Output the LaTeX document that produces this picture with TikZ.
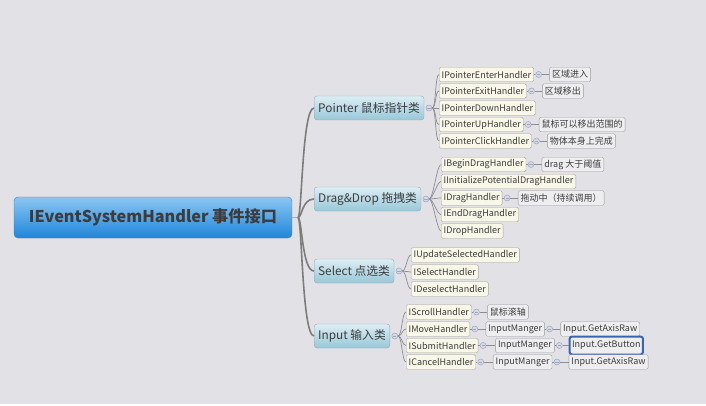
\documentclass[tikz,border=0pt]{standalone}
\usepackage{fontspec}
\setmainfont{Noto Sans CJK SC}
\usetikzlibrary{positioning}
\definecolor{bg}{HTML}{E2E1E6}
\definecolor{ink}{HTML}{3C3C3C}
\definecolor{roottop}{HTML}{8CC6F2}
\definecolor{rootbot}{HTML}{1F86DA}
\definecolor{rootline}{HTML}{3E7FC2}
\definecolor{brtop}{HTML}{DDEEF4}
\definecolor{brbot}{HTML}{98C7D8}
\definecolor{brline}{HTML}{8FAAB4}
\definecolor{leaffill}{HTML}{F8F7E8}
\definecolor{leafline}{HTML}{A4A39A}
\definecolor{notefill}{HTML}{EEEEF1}
\definecolor{noteline}{HTML}{9C9CA0}
\definecolor{limbgray}{HTML}{7C7C7C}
\definecolor{twiggray}{HTML}{8E8E8E}
\definecolor{knobfill}{HTML}{D6DAE6}
\definecolor{knobline}{HTML}{9EA6C0}
\definecolor{selblue}{HTML}{3B63B5}
\tikzset{
  rootbox/.style={draw=rootline,rounded corners=4pt,top color=roottop,bottom color=rootbot,
    text=ink,font=\fontsize{16.2}{18}\selectfont\bfseries,minimum width=278pt,minimum height=41pt},
  branch/.style={draw=brline,rounded corners=3pt,top color=brtop,bottom color=brbot,
    text=ink,font=\fontsize{11.8}{13}\selectfont,minimum height=24pt,inner xsep=4pt,anchor=west},
  leaf/.style={draw=leafline,rounded corners=1.5pt,fill=leaffill,text=ink,
    font=\fontsize{9}{10}\selectfont,minimum height=14.5pt,inner xsep=2.5pt,inner ysep=0pt,anchor=west},
  note/.style={leaf,draw=noteline,fill=notefill},
  picked/.style={note,draw=selblue,line width=2pt,rounded corners=2.5pt,minimum height=18pt},
  knob/.style={circle,draw=knobline,fill=knobfill,inner sep=0pt,minimum size=6pt,line width=0.5pt,
    path picture={\draw[knobline,line width=0.6pt] ([xshift=-1.6pt]path picture bounding box.center)
      -- ([xshift=1.6pt]path picture bounding box.center);}},
  limb/.style={draw=limbgray,line width=1.6pt},
  twig/.style={draw=twiggray,line width=0.7pt},
}
\begin{document}
\begin{tikzpicture}[x=1pt,y=-1pt]
  % canvas
  \fill[bg] (0,0) rectangle (706,406);
  \fill[white] (0,403.5) rectangle (706,406);
  \useasboundingbox (0,0) rectangle (706,406);

  % root and main branches
  \node[rootbox] (root) at (153,217.5) {IEventSystemHandler 事件接口};
  \coordinate (hub) at (298,217.5);
  \node[branch] (ptr)  at (314,108) {Pointer 鼠标指针类};
  \node[branch] (drag) at (314,199) {Drag\&Drop 拖拽类};
  \node[branch] (sel)  at (314,271) {Select 点选类};
  \node[branch] (inp)  at (314,336) {Input 输入类};
  \draw[limb,draw=limbgray!60,line width=1pt] (root.east) -- (hub);
  \foreach \b in {ptr,drag,sel,inp}
    \draw[limb] (hub) .. controls +(4,0) and +(-12,0) .. (\b.west);

  % Pointer
  \node[knob,right=1.5pt of ptr] (ptrk) {};
  \node[leaf] (p1) at (439,74.5) {IPointerEnterHandler};
  \node[leaf] (p2) at (439,91)   {IPointerExitHandler};
  \node[leaf] (p3) at (439,108)  {IPointerDownHandler};
  \node[leaf] (p4) at (439,124.5) {IPointerUpHandler};
  \node[leaf] (p5) at (439,141)  {IPointerClickHandler};
  \foreach \c in {p1,p2,p3,p4,p5}
    \draw[twig] (ptrk.east) .. controls +(4,0) and +(-4,0) .. (\c.west);
  \node[knob,right=1.5pt of p1] (p1k) {};
  \node[note,right=7.5pt of p1k] (p1n) {区域进入};
  \node[knob,right=1.5pt of p2] (p2k) {};
  \node[note,right=7.5pt of p2k] (p2n) {区域移出};
  \node[knob,right=1.5pt of p4] (p4k) {};
  \node[note,right=7.5pt of p4k] (p4n) {鼠标可以移出范围的};
  \node[knob,right=1.5pt of p5] (p5k) {};
  \node[note,right=7.5pt of p5k] (p5n) {物体本身上完成};
  \foreach \c in {p1,p2,p4,p5}
    \draw[twig] (\c.east) -- (\c k) -- (\c n);

  % Drag&Drop
  \node[knob,right=1.5pt of drag] (dragk) {};
  \node[leaf] (d1) at (441,164.5) {IBeginDragHandler};
  \node[leaf] (d2) at (441,181.5) {IInitializePotentialDragHandler};
  \node[leaf] (d3) at (441,198)   {IDragHandler};
  \node[leaf] (d4) at (441,214.5) {IEndDragHandler};
  \node[leaf] (d5) at (441,231)   {IDropHandler};
  \foreach \c in {d1,d2,d3,d4,d5}
    \draw[twig] (dragk.east) .. controls +(4,0) and +(-4,0) .. (\c.west);
  \node[knob,right=1.5pt of d1] (d1k) {};
  \node[note,right=7.5pt of d1k] (d1n) {drag 大于阈值};
  \node[knob,right=1.5pt of d3] (d3k) {};
  \node[note,right=7.5pt of d3k] (d3n) {拖动中（持续调用）};
  \foreach \c in {d1,d3}
    \draw[twig] (\c.east) -- (\c k) -- (\c n);

  % Select
  \node[knob,right=1.5pt of sel] (selk) {};
  \node[leaf] (s1) at (411,255) {IUpdateSelectedHandler};
  \node[leaf] (s2) at (411,272) {ISelectHandler};
  \node[leaf] (s3) at (411,289) {IDeselectHandler};
  \foreach \c in {s1,s2,s3}
    \draw[twig] (selk.east) .. controls +(4,0) and +(-4,0) .. (\c.west);

  % Input
  \node[knob,right=1.5pt of inp] (inpk) {};
  \node[leaf] (i1) at (406,312)   {IScrollHandler};
  \node[leaf] (i2) at (406,329)   {IMoveHandler};
  \node[leaf] (i3) at (406,345.5) {ISubmitHandler};
  \node[leaf] (i4) at (406,362)   {ICancelHandler};
  \foreach \c in {i1,i2,i3,i4}
    \draw[twig] (inpk.east) .. controls +(4,0) and +(-4,0) .. (\c.west);
  \node[knob,right=1.5pt of i1] (i1k) {};
  \node[note,right=7.5pt of i1k] (i1n) {鼠标滚轴};
  \node[knob,right=1.5pt of i2] (i2k) {};
  \node[note,right=7.5pt of i2k] (i2n) {InputManger};
  \node[knob,right=1.5pt of i3] (i3k) {};
  \node[note,right=9pt of i3k] (i3n) {InputManger};
  \node[knob,right=1.5pt of i4] (i4k) {};
  \node[note,right=9pt of i4k] (i4n) {InputManger};
  \foreach \c in {i1,i2,i3,i4}
    \draw[twig] (\c.east) -- (\c k) -- (\c n);
  % second level of the input calls
  \node[knob,right=1.5pt of i2n] (i2m) {};
  \node[note,right=7.5pt of i2m] (i2a) {Input.GetAxisRaw};
  \node[knob,right=1.5pt of i3n] (i3m) {};
  \node[picked,right=6pt of i3m] (i3a) {Input.GetButton};
  \node[knob,right=1.5pt of i4n] (i4m) {};
  \node[note,right=8.5pt of i4m] (i4a) {Input.GetAxisRaw};
  \foreach \c in {i2,i3,i4}
    \draw[twig] (\c n.east) -- (\c m) -- (\c a);
\end{tikzpicture}
\end{document}
